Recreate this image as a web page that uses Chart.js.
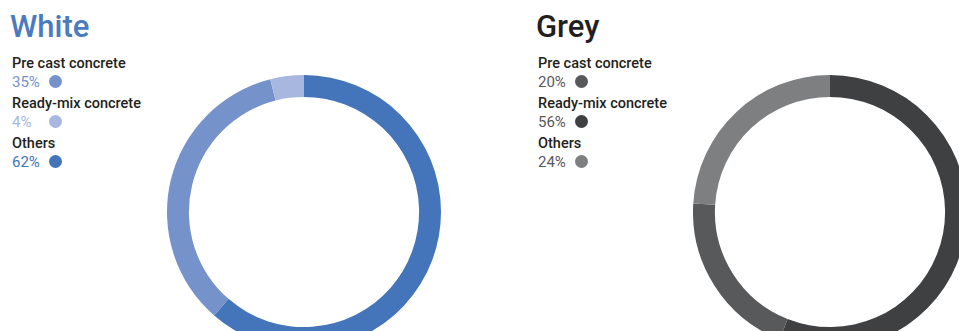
<!doctype html>
<html>

<head>
	<title>White and Grey cement</title>
	<meta charset="utf-8" />
	<script src="https://cdn.jsdelivr.net/npm/chart.js@4.4.1/dist/chart.umd.min.js"></script>
	<style>
		body {
			margin: 0;
			width: 959px;
			height: 331px;
			overflow: hidden;
			background: #fff;
			font-family: Roboto, "Noto Sans", sans-serif;
			position: relative;
		}
		.title {
			position: absolute;
			top: 11px;
			font-size: 31px;
			line-height: 31px;
			font-weight: 500;
		}
		.legend {
			position: absolute;
			top: 55px;
		}
		.item {
			position: relative;
			height: 40px;
		}
		.name {
			font-size: 14.5px;
			line-height: 18px;
			font-weight: 500;
			color: #231f20;
		}
		.pct {
			font-size: 15px;
			line-height: 18px;
		}
		.dot {
			position: absolute;
			top: 20px;
			width: 13px;
			height: 13px;
			border-radius: 50%;
		}
		.ring {
			position: absolute;
			top: 75px;
			width: 274px;
			height: 274px;
		}
	</style>
</head>

<body>
	<div class="title" style="left:10px; color:#4a7ac0;">White</div>
	<div class="legend" id="legendWhite" style="left:12px;"></div>
	<div class="ring" style="left:167px;"><canvas id="white"></canvas></div>

	<div class="title" style="left:536px; color:#231f20;">Grey</div>
	<div class="legend" id="legendGrey" style="left:538px;"></div>
	<div class="ring" style="left:693px;"><canvas id="grey"></canvas></div>

	<script>
		const categories = ['Pre cast concrete', 'Ready-mix concrete', 'Others'];

		const whiteValues = [35, 4, 62];
		const whiteColors = ['#7592ca', '#a8b7e0', '#4474b9'];
		const whiteDrawOrder = [2, 0, 1];

		const greyValues = [20, 56, 24];
		const greyColors = ['#58595b', '#3f4042', '#7e7f81'];
		const greyPctColor = '#58595b';
		const greyDrawOrder = [1, 0, 2];

		function buildLegend(id, values, colors, pctColors, dotX) {
			var box = document.getElementById(id);
			for (var i = 0; i < categories.length; i++) {
				var item = document.createElement('div');
				item.className = 'item';
				item.innerHTML =
					'<div class="name">' + categories[i] + '</div>' +
					'<div class="pct" style="color:' + pctColors[i] + '">' + values[i] + '%</div>' +
					'<span class="dot" style="left:' + dotX + 'px; background:' + colors[i] + '"></span>';
				box.appendChild(item);
			}
		}

		function plotRing(id, values, colors, order) {
			var config = {
				type: 'doughnut',
				data: {
					labels: order.map(function (i) { return categories[i]; }),
					datasets: [{
						data: order.map(function (i) { return values[i]; }),
						backgroundColor: order.map(function (i) { return colors[i]; }),
						borderWidth: 0
					}]
				},
				options: {
					responsive: true,
					maintainAspectRatio: false,
					animation: false,
					cutout: '84%',
					layout: { padding: 0 },
					plugins: {
						legend: { display: false },
						tooltip: { enabled: false }
					}
				}
			};
			return new Chart(document.getElementById(id), config);
		}

		window.onload = function () {
			buildLegend('legendWhite', whiteValues, whiteColors, whiteColors, 37);
			buildLegend('legendGrey', greyValues, greyColors, [greyPctColor, greyPctColor, greyPctColor], 37);
			plotRing('white', whiteValues, whiteColors, whiteDrawOrder);
			plotRing('grey', greyValues, greyColors, greyDrawOrder);
		};
	</script>
</body>

</html>
